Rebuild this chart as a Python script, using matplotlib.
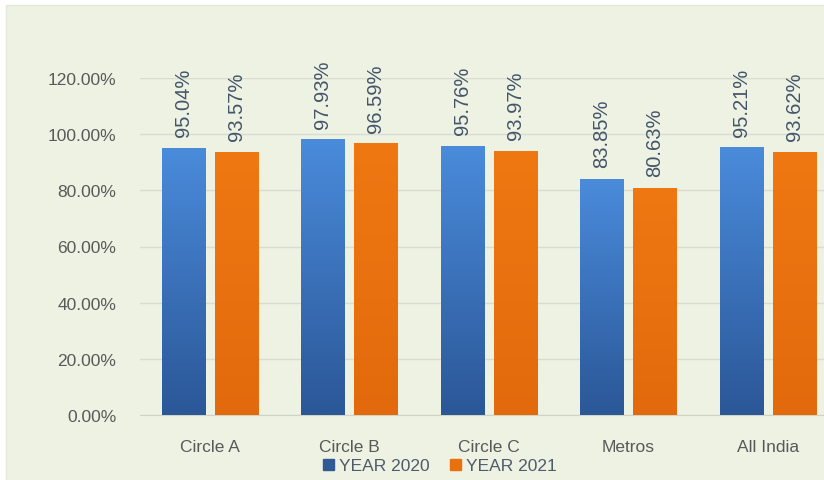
import numpy as np
import matplotlib
matplotlib.use("Agg")
import matplotlib.pyplot as plt
from matplotlib.patches import Rectangle
from matplotlib.colors import LinearSegmentedColormap

categories = ["Circle A", "Circle B", "Circle C", "Metros", "All India"]
year_2020 = [95.04, 97.93, 95.76, 83.85, 95.21]
year_2021 = [93.57, 96.59, 93.97, 80.63, 93.62]
y_ticks = [0, 20, 40, 60, 80, 100, 120]

plt.rcParams['font.family'] = ['Liberation Sans', 'DejaVu Sans']

fig = plt.figure(figsize=(8.24, 4.81), dpi=100)
fig.patch.set_facecolor("white")
# light panel behind the chart
fig.add_artist(Rectangle((6 / 824, -0.01), 1, 1 - 6 / 481 + 0.01, transform=fig.transFigure,
                         facecolor="#EEF2E3", edgecolor="#E3E8D8", zorder=-10))

ax = fig.add_axes([140 / 824, 1 - 416 / 481, 697.5 / 824, 337 / 481])
ax.set_facecolor("none")

x = np.arange(len(categories))
w = 0.31
off = 0.19

blue_cmap = LinearSegmentedColormap.from_list("b", ["#2B5797", "#4A8BDB"])
orange_cmap = LinearSegmentedColormap.from_list("o", ["#E26A0C", "#F07812"])
grad = np.linspace(0, 1, 256).reshape(-1, 1)

for xs, vals, cmap in [(x - off, year_2020, blue_cmap), (x + off, year_2021, orange_cmap)]:
    bars = ax.bar(xs, vals, width=w, color=cmap(0.5), zorder=2)
    for b, v in zip(bars, vals):
        ax.imshow(grad, extent=(b.get_x(), b.get_x() + w, 0, v), origin="lower",
                  cmap=cmap, aspect="auto", zorder=3)
        ax.text(b.get_x() + w / 2, v + 4.3, f"{v:.2f}%", rotation=90, ha="center",
                va="bottom", fontsize=14.5, color="#44546A", clip_on=False)

ax.set_xlim(-0.5, len(categories) - 0.5)
ax.set_ylim(0, 120)
ax.set_yticks(y_ticks)
ax.set_yticklabels([f"{t:.2f}%" for t in y_ticks])
ax.set_xticks(x)
ax.set_xticklabels(categories)
ax.tick_params(axis="both", length=0, labelsize=12.5, colors="#595959")
ax.tick_params(axis="y", pad=17)
ax.tick_params(axis="x", pad=17)
ax.grid(axis="y", color="#D9DCD0", linewidth=1, zorder=0)
ax.set_axisbelow(True)
for s in ["top", "right", "left"]:
    ax.spines[s].set_visible(False)
ax.spines["bottom"].set_color("#D0D3C8")

handles = [Rectangle((0, 0), 1, 1, color="#2F5A96"), Rectangle((0, 0), 1, 1, color="#E8700E")]
fig.legend(handles, ["YEAR 2020", "YEAR 2021"], loc="center", bbox_to_anchor=(440 / 824, 1 - 467 / 481),
           ncol=2, frameon=False, fontsize=12.5, handlelength=0.6, handleheight=0.6,
           handletextpad=0.3, columnspacing=1.2, labelcolor="#4F5B6B")

fig.savefig("out.png", dpi=100, facecolor=fig.get_facecolor())
